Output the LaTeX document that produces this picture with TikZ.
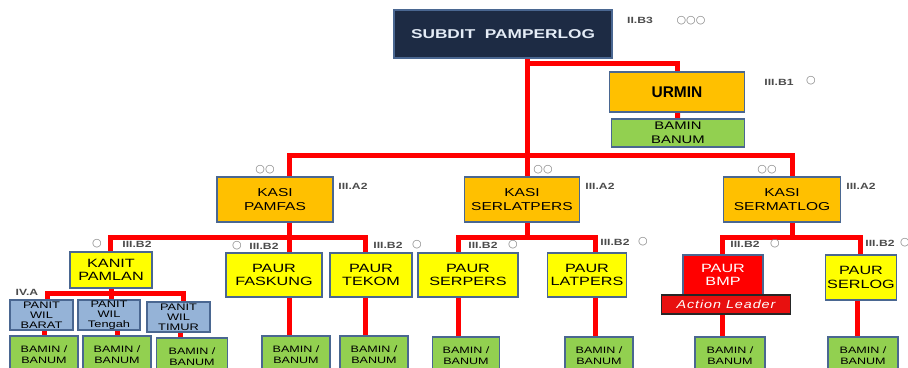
\documentclass[tikz,border=0pt]{standalone}
\usepackage{fontspec}
\setmainfont{Liberation Sans}
\newfontfamily\widefont[FakeStretch=1.35]{Liberation Sans}
\newfontfamily\spacedfont[FakeStretch=1.25,LetterSpace=8]{Liberation Sans}
\newfontfamily\ringfont{DejaVu Sans}
\usetikzlibrary{backgrounds}
\definecolor{orgNavy}{HTML}{1D2B44}
\definecolor{orgPale}{HTML}{E4ECF6}
\definecolor{orgEdge}{HTML}{4A6791}
\definecolor{orgOrange}{HTML}{FFC000}
\definecolor{orgYellow}{HTML}{FFFF00}
\definecolor{orgGreen}{HTML}{92D050}
\definecolor{orgSky}{HTML}{95B3D7}
\definecolor{orgRed}{HTML}{FF0000}
\definecolor{orgLead}{HTML}{E8100F}
\tikzset{
    unit/.style={draw=orgEdge, line width=1.3pt, align=center, inner sep=0pt, text=black},
    headbox/.style={unit, fill=orgNavy, text=orgPale, font=\widefont\bfseries\fontsize{12.8}{15}\selectfont},
    adminbox/.style={unit, fill=orgOrange, font=\bfseries\fontsize{15.5}{17}\selectfont},
    kasibox/.style={unit, fill=orgOrange, font=\widefont\fontsize{11.5}{13.5}\selectfont},
    paurbox/.style={unit, fill=orgYellow, font=\widefont\fontsize{12}{13.5}\selectfont},
    panitbox/.style={unit, fill=orgSky, font=\widefont\fontsize{9.5}{10.2}\selectfont},
    staffbox/.style={unit, fill=orgGreen, font=\widefont\fontsize{9.3}{10.8}\selectfont},
    leadbox/.style={draw=black!85, line width=1.2pt, fill=orgLead, text=white, inner sep=0pt, font=\spacedfont\itshape\fontsize{11.5}{12}\selectfont},
    link/.style={draw=orgRed, line width=5pt},
    grade/.style={font=\widefont\bfseries\fontsize{9}{9}\selectfont, text=black!70, inner sep=0pt},
    rings/.style={font=\ringfont\fontsize{11}{11}\selectfont, text=black!50, inner sep=0pt}
}

\begin{document}
\begin{tikzpicture}[x=1pt, y=-1pt]
\useasboundingbox (0,0) rectangle (908,367);
\clip (0,0) rectangle (908,367);

% head and admin
\node[headbox, minimum width=218pt, minimum height=48pt] (subdit) at (503,34) {SUBDIT\ \ PAMPERLOG};
\node[adminbox, minimum width=135pt, minimum height=40pt] (urmin) at (677,92) {URMIN};
\node[staffbox, minimum width=133pt, minimum height=28pt, font=\widefont\fontsize{11}{13.5}\selectfont] (baminU) at (678,133) {BAMIN\\BANUM};

% kasi level
\node[kasibox, minimum width=116pt, minimum height=45pt] (kasiA) at (275,199.5) {KASI\\PAMFAS};
\node[kasibox, minimum width=115pt, minimum height=45pt] (kasiB) at (522,199.5) {KASI\\SERLATPERS};
\node[kasibox, minimum width=117pt, minimum height=45pt] (kasiC) at (782,199.5) {KASI\\SERMATLOG};

% paur / kanit level
\node[paurbox, minimum width=82pt, minimum height=36pt] (kanit) at (111,270) {KANIT\\PAMLAN};
\node[paurbox, minimum width=96pt, minimum height=44pt] (faskung) at (274,275) {PAUR\\FASKUNG};
\node[paurbox, minimum width=82pt, minimum height=44pt] (tekom) at (371,275) {PAUR\\TEKOM};
\node[paurbox, minimum width=100pt, minimum height=44pt] (serpers) at (468,275) {PAUR\\SERPERS};
\node[paurbox, minimum width=79pt, minimum height=44pt] (latpers) at (587,275) {PAUR\\LATPERS};
\node[paurbox, fill=orgRed, text=white, minimum width=80pt, minimum height=40pt] (bmp) at (723,275) {PAUR\\BMP};
\node[leadbox, minimum width=129pt, minimum height=19pt] (action) at (726,304.5) {Action Leader};
\node[paurbox, minimum width=71pt, minimum height=45pt] (serlog) at (861,277.5) {PAUR\\SERLOG};

% panit level
\node[panitbox, minimum width=63pt, minimum height=30pt] (barat) at (41.5,315) {PANIT\\WIL\\BARAT};
\node[panitbox, minimum width=62pt, minimum height=30pt] (tengah) at (109,315) {PANIT\\WIL\\Tengah};
\node[panitbox, minimum width=63pt, minimum height=30pt] (timur) at (178.5,317) {PANIT\\WIL\\TIMUR};

% staff boxes
\node[staffbox, minimum width=68pt, minimum height=38pt] (bamin1) at (44,355) {BAMIN /\\BANUM};
\node[staffbox, minimum width=68pt, minimum height=38pt] (bamin2) at (117,355) {BAMIN /\\BANUM};
\node[staffbox, minimum width=71pt, minimum height=38pt] (bamin3) at (192,357) {BAMIN /\\BANUM};
\node[staffbox, minimum width=68pt, minimum height=38pt] (bamin4) at (296,355) {BAMIN /\\BANUM};
\node[staffbox, minimum width=68pt, minimum height=38pt] (bamin5) at (374,355) {BAMIN /\\BANUM};
\node[staffbox, minimum width=67pt, minimum height=38pt] (bamin6) at (466,356) {BAMIN /\\BANUM};
\node[staffbox, minimum width=68pt, minimum height=38pt] (bamin7) at (599,356) {BAMIN /\\BANUM};
\node[staffbox, minimum width=70pt, minimum height=38pt] (bamin8) at (730,356) {BAMIN /\\BANUM};
\node[staffbox, minimum width=70pt, minimum height=38pt] (bamin9) at (863,356) {BAMIN /\\BANUM};

% grade marks
\node[grade] (gSub) at (640,20) {II.B3};
\node[rings] (rSub) at (691,21) {○○○};
\node[grade] (gUrm) at (779,82) {III.B1};
\node[rings] (rUrm) at (811,81) {○};
\node[rings] (rKA) at (265,170) {○○};
\node[grade] (gKA) at (353,186) {III.A2};
\node[rings] (rKB) at (543,170) {○○};
\node[grade] (gKB) at (600,186) {III.A2};
\node[rings] (rKC) at (767,170) {○○};
\node[grade] (gKC) at (861,186) {III.A2};
\node[rings] (rKan) at (97,244) {○};
\node[grade] (gKan) at (137,244) {III.B2};
\node[rings] (rFas) at (237,246) {○};
\node[grade] (gFas) at (264,246) {III.B2};
\node[grade] (gTek) at (388,245) {III.B2};
\node[rings] (rTek) at (417,245) {○};
\node[grade] (gSrp) at (483,245) {III.B2};
\node[rings] (rSrp) at (513,245) {○};
\node[grade] (gLat) at (615,242) {III.B2};
\node[rings] (rLat) at (643,242) {○};
\node[grade] (gBmp) at (745,244) {III.B2};
\node[rings] (rBmp) at (775,244) {○};
\node[grade] (gSlg) at (880,243) {III.B2};
\node[rings] (rSlg) at (905,243) {○};
\node[grade] (gPan) at (27,292) {IV.A};

% junctions
\coordinate (top) at (527,155);
\coordinate (urminJ) at (527,63);
\coordinate (bA) at (289,155);
\coordinate (bC) at (792,155);
\coordinate (pA1) at (110,237);
\coordinate (pA3) at (365,237);
\coordinate (pB1) at (458,237);
\coordinate (pB2) at (595,237);
\coordinate (pC1) at (722,237);
\coordinate (pC2) at (860,237);
\coordinate (q1) at (47,293);
\coordinate (q3) at (183,293);

\begin{scope}[on background layer]
\fill[white] (0,0) rectangle (908,367);
\draw[link] (subdit.south -| top) -- (top);
\draw[link] (urminJ) -| (urmin.north);
\draw[link] (urmin) -- (baminU);
\draw[link] (kasiA.north -| bA) -- (bA) -- (bC) -- (kasiC.north -| bC);
\draw[link] (top) -- (kasiB.north -| top);
\draw[link] (kanit.north -| pA1) -- (pA1) -- (pA3) -- (tekom.north -| pA3);
\draw[link] (kasiA.south -| bA) -- (faskung.north -| bA);
\draw[link] (serpers.north -| pB1) -- (pB1) -- (pB2) -- (latpers.north -| pB2);
\draw[link] (kasiB.south -| top) -- (top |- pB1);
\draw[link] (bmp.north -| pC1) -- (pC1) -- (pC2) -- (serlog.north -| pC2);
\draw[link] (kasiC.south -| bC) -- (bC |- pC1);
\draw[link] (barat.north -| q1) -- (q1) -- (q3) -- (timur.north -| q3);
\draw[link] (kanit.south) -- (kanit.south |- tengah.north);
\draw[link] (bamin1.north) -- (bamin1.north |- barat.south);
\draw[link] (bamin2.north) -- (bamin2.north |- tengah.south);
\draw[link] (bamin3.north -| 180,0) -- (timur.south -| 180,0);
\draw[link] (faskung.south -| bA) -- (bamin4.north -| bA);
\draw[link] (tekom.south -| pA3) -- (bamin5.north -| pA3);
\draw[link] (serpers.south -| pB1) -- (bamin6.north -| pB1);
\draw[link] (latpers.south -| pB2) -- (bamin7.north -| pB2);
\draw[link] (action.south -| pC1) -- (bamin8.north -| pC1);
\draw[link] (serlog.south -| 857,0) -- (bamin9.north -| 857,0);
\end{scope}
\end{tikzpicture}
\end{document}
